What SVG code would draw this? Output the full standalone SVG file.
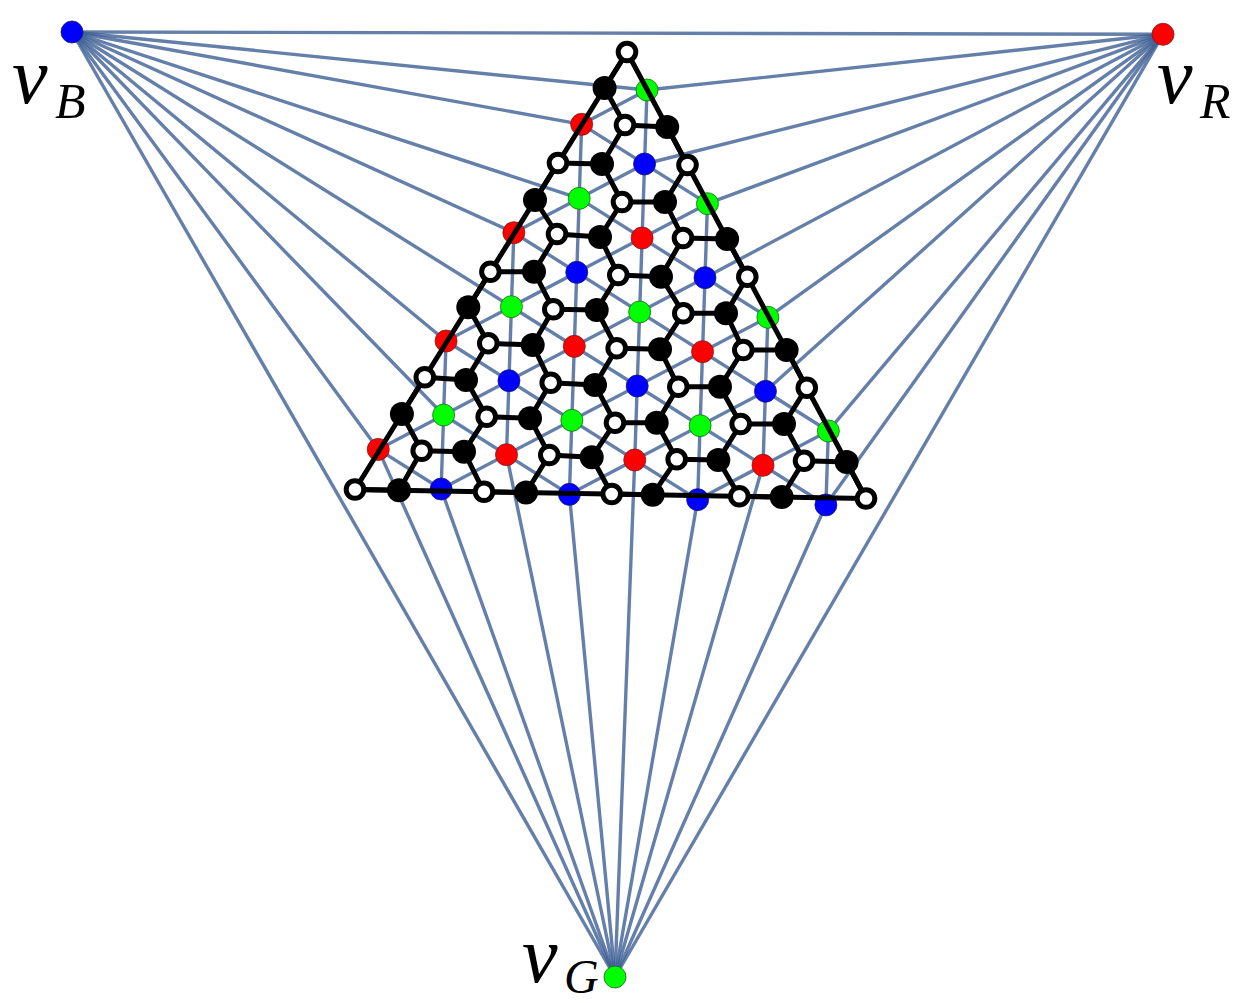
<svg xmlns="http://www.w3.org/2000/svg" width="1246" height="1003" viewBox="0 0 1246 1003">
<style>
.lt{stroke:#3d5f94;stroke-opacity:.8;stroke-width:3.4;stroke-linecap:round}
.hx{stroke:#000;stroke-width:5;fill:none;stroke-linejoin:round;stroke-linecap:round}
.R{fill:#ff0000;stroke:#7a1a1a;stroke-width:.8}
.G{fill:#00ff00;stroke:#1a6a1a;stroke-width:.8}
.B{fill:#0000ff;stroke:#1a1a6a;stroke-width:.8}
.h1{fill:#000}
.h0{fill:#fff;stroke:#000;stroke-width:5}
.lab{font-family:"Liberation Serif",serif;font-style:italic;fill:#000}
</style>
<rect width="1246" height="1003" fill="#fff"/>
<g id="connectors-lattice">
<line class="lt" x1="72" y1="32" x2="1163" y2="34.3"/>
<line class="lt" x1="1163" y1="34.3" x2="615" y2="977"/>
<line class="lt" x1="615" y1="977" x2="72" y2="32"/>
<line class="lt" x1="72" y1="32" x2="647" y2="90"/>
<line class="lt" x1="72" y1="32" x2="581.65" y2="124.35"/>
<line class="lt" x1="72" y1="32" x2="579.2" y2="198.35"/>
<line class="lt" x1="72" y1="32" x2="513.85" y2="232.7"/>
<line class="lt" x1="72" y1="32" x2="511.4" y2="306.7"/>
<line class="lt" x1="72" y1="32" x2="446.05" y2="341.05"/>
<line class="lt" x1="72" y1="32" x2="443.6" y2="415.05"/>
<line class="lt" x1="72" y1="32" x2="378.25" y2="449.4"/>
<line class="lt" x1="1163" y1="34.3" x2="647" y2="90"/>
<line class="lt" x1="1163" y1="34.3" x2="644.55" y2="164"/>
<line class="lt" x1="1163" y1="34.3" x2="707.45" y2="203.65"/>
<line class="lt" x1="1163" y1="34.3" x2="705" y2="277.65"/>
<line class="lt" x1="1163" y1="34.3" x2="767.9" y2="317.3"/>
<line class="lt" x1="1163" y1="34.3" x2="765.45" y2="391.3"/>
<line class="lt" x1="1163" y1="34.3" x2="828.35" y2="430.95"/>
<line class="lt" x1="1163" y1="34.3" x2="825.9" y2="504.95"/>
<line class="lt" x1="615" y1="977" x2="378.25" y2="449.4"/>
<line class="lt" x1="615" y1="977" x2="441.15" y2="489.05"/>
<line class="lt" x1="615" y1="977" x2="506.5" y2="454.7"/>
<line class="lt" x1="615" y1="977" x2="569.4" y2="494.35"/>
<line class="lt" x1="615" y1="977" x2="634.75" y2="460"/>
<line class="lt" x1="615" y1="977" x2="697.65" y2="499.65"/>
<line class="lt" x1="615" y1="977" x2="763" y2="465.3"/>
<line class="lt" x1="615" y1="977" x2="825.9" y2="504.95"/>
<line class="lt" x1="647" y1="90" x2="581.65" y2="124.35"/>
<line class="lt" x1="644.55" y1="164" x2="513.85" y2="232.7"/>
<line class="lt" x1="707.45" y1="203.65" x2="446.05" y2="341.05"/>
<line class="lt" x1="705" y1="277.65" x2="378.25" y2="449.4"/>
<line class="lt" x1="767.9" y1="317.3" x2="441.15" y2="489.05"/>
<line class="lt" x1="765.45" y1="391.3" x2="569.4" y2="494.35"/>
<line class="lt" x1="828.35" y1="430.95" x2="697.65" y2="499.65"/>
<line class="lt" x1="581.65" y1="124.35" x2="707.45" y2="203.65"/>
<line class="lt" x1="579.2" y1="198.35" x2="767.9" y2="317.3"/>
<line class="lt" x1="513.85" y1="232.7" x2="828.35" y2="430.95"/>
<line class="lt" x1="511.4" y1="306.7" x2="825.9" y2="504.95"/>
<line class="lt" x1="446.05" y1="341.05" x2="697.65" y2="499.65"/>
<line class="lt" x1="443.6" y1="415.05" x2="569.4" y2="494.35"/>
<line class="lt" x1="378.25" y1="449.4" x2="441.15" y2="489.05"/>
<line class="lt" x1="647" y1="90" x2="634.75" y2="460"/>
<line class="lt" x1="581.65" y1="124.35" x2="569.4" y2="494.35"/>
<line class="lt" x1="513.85" y1="232.7" x2="506.5" y2="454.7"/>
<line class="lt" x1="446.05" y1="341.05" x2="441.15" y2="489.05"/>
<line class="lt" x1="707.45" y1="203.65" x2="697.65" y2="499.65"/>
<line class="lt" x1="767.9" y1="317.3" x2="763" y2="465.3"/>
<line class="lt" x1="828.35" y1="430.95" x2="825.9" y2="504.95"/>
</g>
<g id="outer-nodes">
<g id="vB"><circle class="B" cx="72" cy="32" r="11"/><text class="lab"><tspan x="12" y="103" font-size="80">v</tspan><tspan x="55" y="118" font-size="50">B</tspan></text></g>
<g id="vR"><circle class="R" cx="1163" cy="34.3" r="11"/><text class="lab"><tspan x="1157" y="103" font-size="80">v</tspan><tspan x="1200" y="118" font-size="50">R</tspan></text></g>
<g id="vG"><circle class="G" cx="615" cy="977" r="11"/><text class="lab"><tspan x="522" y="982" font-size="80">v</tspan><tspan x="564" y="993" font-size="48">G</tspan></text></g>
</g>
<g id="colored-nodes">
<g id="g0_0"><circle class="G" cx="647" cy="90" r="11"/></g>
<g id="g2_1"><circle class="G" cx="579.2" cy="198.35" r="11"/></g>
<g id="g1_2"><circle class="G" cx="707.45" cy="203.65" r="11"/></g>
<g id="g4_2"><circle class="G" cx="511.4" cy="306.7" r="11"/></g>
<g id="g3_3"><circle class="G" cx="639.65" cy="312" r="11"/></g>
<g id="g2_4"><circle class="G" cx="767.9" cy="317.3" r="11"/></g>
<g id="g6_3"><circle class="G" cx="443.6" cy="415.05" r="11"/></g>
<g id="g5_4"><circle class="G" cx="571.85" cy="420.35" r="11"/></g>
<g id="g4_5"><circle class="G" cx="700.1" cy="425.65" r="11"/></g>
<g id="g3_6"><circle class="G" cx="828.35" cy="430.95" r="11"/></g>
<g id="r1_0"><circle class="R" cx="581.65" cy="124.35" r="11"/></g>
<g id="r3_1"><circle class="R" cx="513.85" cy="232.7" r="11"/></g>
<g id="r2_2"><circle class="R" cx="642.1" cy="238" r="11"/></g>
<g id="r5_2"><circle class="R" cx="446.05" cy="341.05" r="11"/></g>
<g id="r4_3"><circle class="R" cx="574.3" cy="346.35" r="11"/></g>
<g id="r3_4"><circle class="R" cx="702.55" cy="351.65" r="11"/></g>
<g id="r7_3"><circle class="R" cx="378.25" cy="449.4" r="11"/></g>
<g id="r6_4"><circle class="R" cx="506.5" cy="454.7" r="11"/></g>
<g id="r5_5"><circle class="R" cx="634.75" cy="460" r="11"/></g>
<g id="r4_6"><circle class="R" cx="763" cy="465.3" r="11"/></g>
<g id="b1_1"><circle class="B" cx="644.55" cy="164" r="11"/></g>
<g id="b3_2"><circle class="B" cx="576.75" cy="272.35" r="11"/></g>
<g id="b2_3"><circle class="B" cx="705" cy="277.65" r="11"/></g>
<g id="b5_3"><circle class="B" cx="508.95" cy="380.7" r="11"/></g>
<g id="b4_4"><circle class="B" cx="637.2" cy="386" r="11"/></g>
<g id="b3_5"><circle class="B" cx="765.45" cy="391.3" r="11"/></g>
<g id="b7_4"><circle class="B" cx="441.15" cy="489.05" r="11"/></g>
<g id="b6_5"><circle class="B" cx="569.4" cy="494.35" r="11"/></g>
<g id="b5_6"><circle class="B" cx="697.65" cy="499.65" r="11"/></g>
<g id="b4_7"><circle class="B" cx="825.9" cy="504.95" r="11"/></g>
</g>
<g id="connectors-hex">
<polygon class="hx" points="627,52 866,498.5 355,489.5"/>
<path class="hx" d="M627,52L604.6,88L625,125 M625,125L667.2,127L687.5,165 M558,163L602,164L625,125M602,164L622,202 M622,202L665,202L687.5,165M665,202L683,238 M683,238L727.1,239L747.3,276.7 M558,163L535,200L557,234 M557,234L600,237L622,202M600,237L618.3,275 M618.3,275L661,276.7L683,238M661,276.7L683.3,313.3 M683.3,313.3L726,313.3L747.3,276.7M726,313.3L743.3,350 M743.3,350L786.6,350L806.8,387.7 M490.4,271.7L534,271.7L557,234M534,271.7L553.3,309.3 M553.3,309.3L596.7,310L618.3,275M596.7,310L616.7,348.3 M616.7,348.3L660,349.3L683.3,313.3M660,349.3L678.3,386.7 M678.3,386.7L720,386.7L743.3,350M720,386.7L740.7,424 M740.7,424L784,424L806.8,387.7M784,424L804,460.7 M804,460.7L846.6,462L866,498.5 M490.4,271.7L468.3,307.3L488.3,343.3 M488.3,343.3L532.7,345L553.3,309.3M532.7,345L550.7,382.7 M550.7,382.7L595,385L616.7,348.3M595,385L615,422.7 M615,422.7L656.7,422.7L678.3,386.7M656.7,422.7L676.7,459.3 M676.7,459.3L718.3,460L740.7,424M718.3,460L739.3,496.3 M739.3,496.3L781.7,497L804,460.7 M424.8,377.3L466,380L488.3,343.3M466,380L486.7,416.7 M486.7,416.7L530,418.3L550.7,382.7M530,418.3L549.3,455 M549.3,455L591.7,457.3L615,422.7M591.7,457.3L611.7,494 M611.7,494L652.7,494.7L676.7,459.3 M424.8,377.3L401.9,414L421.7,450.7 M421.7,450.7L464,451.7L486.7,416.7M464,451.7L484,491.8 M484,491.8L526,492.5L549.3,455 M355,489.5L399,490.3L421.7,450.7"/>
</g>
<g id="hex-black">
<g id="k0_m1"><circle class="h1" cx="604.6" cy="88" r="12"/></g>
<g id="k0_0"><circle class="h1" cx="667.2" cy="127" r="12"/></g>
<g id="k1_0"><circle class="h1" cx="602" cy="164" r="12"/></g>
<g id="k1_1"><circle class="h1" cx="665" cy="202" r="12"/></g>
<g id="k1_2"><circle class="h1" cx="727.1" cy="239" r="12"/></g>
<g id="k2_0"><circle class="h1" cx="535" cy="200" r="12"/></g>
<g id="k2_1"><circle class="h1" cx="600" cy="237" r="12"/></g>
<g id="k2_2"><circle class="h1" cx="661" cy="276.7" r="12"/></g>
<g id="k2_3"><circle class="h1" cx="726" cy="313.3" r="12"/></g>
<g id="k2_4"><circle class="h1" cx="786.6" cy="350" r="12"/></g>
<g id="k3_1"><circle class="h1" cx="534" cy="271.7" r="12"/></g>
<g id="k3_2"><circle class="h1" cx="596.7" cy="310" r="12"/></g>
<g id="k3_3"><circle class="h1" cx="660" cy="349.3" r="12"/></g>
<g id="k3_4"><circle class="h1" cx="720" cy="386.7" r="12"/></g>
<g id="k3_5"><circle class="h1" cx="784" cy="424" r="12"/></g>
<g id="k3_6"><circle class="h1" cx="846.6" cy="462" r="12"/></g>
<g id="k4_1"><circle class="h1" cx="468.3" cy="307.3" r="12"/></g>
<g id="k4_2"><circle class="h1" cx="532.7" cy="345" r="12"/></g>
<g id="k4_3"><circle class="h1" cx="595" cy="385" r="12"/></g>
<g id="k4_4"><circle class="h1" cx="656.7" cy="422.7" r="12"/></g>
<g id="k4_5"><circle class="h1" cx="718.3" cy="460" r="12"/></g>
<g id="k4_6"><circle class="h1" cx="781.7" cy="497" r="12"/></g>
<g id="k5_2"><circle class="h1" cx="466" cy="380" r="12"/></g>
<g id="k5_3"><circle class="h1" cx="530" cy="418.3" r="12"/></g>
<g id="k5_4"><circle class="h1" cx="591.7" cy="457.3" r="12"/></g>
<g id="k5_5"><circle class="h1" cx="652.7" cy="494.7" r="12"/></g>
<g id="k6_2"><circle class="h1" cx="401.9" cy="414" r="12"/></g>
<g id="k6_3"><circle class="h1" cx="464" cy="451.7" r="12"/></g>
<g id="k6_4"><circle class="h1" cx="526" cy="492.5" r="12"/></g>
<g id="k7_3"><circle class="h1" cx="399" cy="490.3" r="12"/></g>
</g>
<g id="hex-white">
<g id="w_m1_m1"><circle class="h0" cx="627" cy="52" r="8.8"/></g>
<g id="w0_0"><circle class="h0" cx="625" cy="125" r="8.8"/></g>
<g id="w0_1"><circle class="h0" cx="687.5" cy="165" r="8.8"/></g>
<g id="w1_0"><circle class="h0" cx="558" cy="163" r="8.8"/></g>
<g id="w1_1"><circle class="h0" cx="622" cy="202" r="8.8"/></g>
<g id="w1_2"><circle class="h0" cx="683" cy="238" r="8.8"/></g>
<g id="w1_3"><circle class="h0" cx="747.3" cy="276.7" r="8.8"/></g>
<g id="w2_1"><circle class="h0" cx="557" cy="234" r="8.8"/></g>
<g id="w2_2"><circle class="h0" cx="618.3" cy="275" r="8.8"/></g>
<g id="w2_3"><circle class="h0" cx="683.3" cy="313.3" r="8.8"/></g>
<g id="w2_4"><circle class="h0" cx="743.3" cy="350" r="8.8"/></g>
<g id="w2_5"><circle class="h0" cx="806.8" cy="387.7" r="8.8"/></g>
<g id="w3_1"><circle class="h0" cx="490.4" cy="271.7" r="8.8"/></g>
<g id="w3_2"><circle class="h0" cx="553.3" cy="309.3" r="8.8"/></g>
<g id="w3_3"><circle class="h0" cx="616.7" cy="348.3" r="8.8"/></g>
<g id="w3_4"><circle class="h0" cx="678.3" cy="386.7" r="8.8"/></g>
<g id="w3_5"><circle class="h0" cx="740.7" cy="424" r="8.8"/></g>
<g id="w3_6"><circle class="h0" cx="804" cy="460.7" r="8.8"/></g>
<g id="w3_7"><circle class="h0" cx="866" cy="498.5" r="8.8"/></g>
<g id="w4_2"><circle class="h0" cx="488.3" cy="343.3" r="8.8"/></g>
<g id="w4_3"><circle class="h0" cx="550.7" cy="382.7" r="8.8"/></g>
<g id="w4_4"><circle class="h0" cx="615" cy="422.7" r="8.8"/></g>
<g id="w4_5"><circle class="h0" cx="676.7" cy="459.3" r="8.8"/></g>
<g id="w4_6"><circle class="h0" cx="739.3" cy="496.3" r="8.8"/></g>
<g id="w5_2"><circle class="h0" cx="424.8" cy="377.3" r="8.8"/></g>
<g id="w5_3"><circle class="h0" cx="486.7" cy="416.7" r="8.8"/></g>
<g id="w5_4"><circle class="h0" cx="549.3" cy="455" r="8.8"/></g>
<g id="w5_5"><circle class="h0" cx="611.7" cy="494" r="8.8"/></g>
<g id="w6_3"><circle class="h0" cx="421.7" cy="450.7" r="8.8"/></g>
<g id="w6_4"><circle class="h0" cx="484" cy="491.8" r="8.8"/></g>
<g id="w7_3"><circle class="h0" cx="355" cy="489.5" r="8.8"/></g>
</g>
</svg>
